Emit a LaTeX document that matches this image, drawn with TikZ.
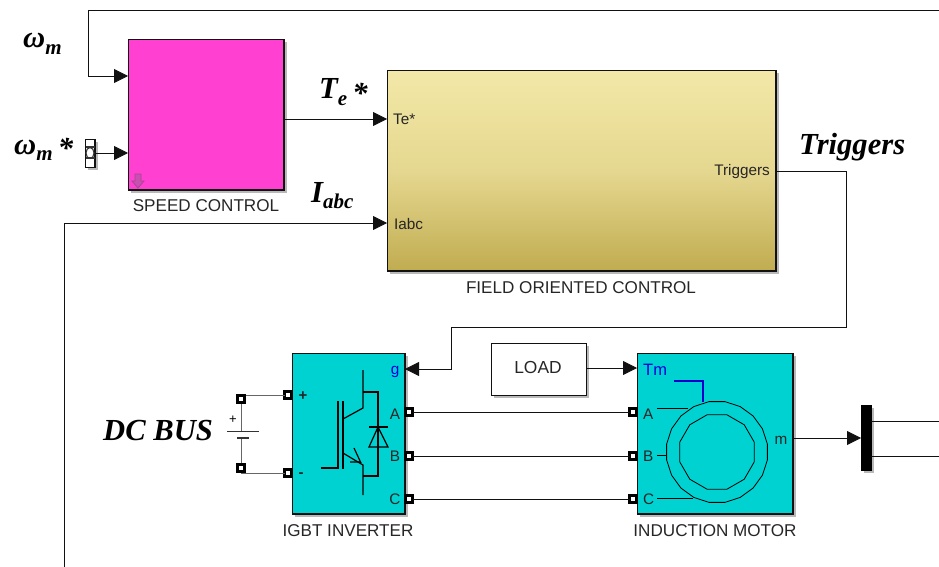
\documentclass[tikz,border=0pt]{standalone}
\usepackage{fontspec}
\setmainfont{Liberation Sans}
\newfontfamily\lbl{Liberation Serif}[BoldItalicFont={Liberation Serif Bold Italic}]
\usetikzlibrary{arrows.meta,shadows}
\definecolor{cyanblk}{HTML}{00D2D2}
\definecolor{pinkblk}{HTML}{FF40D0}
\definecolor{foctop}{HTML}{F3E8A8}
\definecolor{focbot}{HTML}{C0AC50}
\definecolor{lineg}{HTML}{111111}
\definecolor{maskpink}{HTML}{C850B0}
\newcommand{\subm}[1]{\raisebox{-0.22em}{\fontsize{21}{21}\selectfont #1}}
\newcommand{\lowstar}{\hspace{-0.08em}\raisebox{-0.14em}{*}}
\tikzset{
  blk/.style={draw=lineg,line width=1.2pt,inner sep=0pt,outer sep=0pt,anchor=north west,
    drop shadow={shadow xshift=2.5pt,shadow yshift=-2.5pt,fill=black!50,opacity=.55}},
  wire/.style={draw=lineg,line width=.8pt},
  arr/.style={wire,-{Triangle[length=14pt,width=14pt]}},
  sym/.style={draw=black,line width=1.2pt},
  captext/.style={font=\fontsize{17.1}{18}\selectfont,text=black!85,inner sep=0pt},
  plab/.style={font=\fontsize{15.3}{16}\selectfont,text=black!85,inner sep=0pt},
  biglab/.style={font=\lbl\bfseries\itshape\fontsize{30.6}{32}\selectfont,inner sep=0pt,text=black},
  port/.style={draw=black,line width=2.4pt,fill=white,minimum size=7pt,inner sep=0pt,outer sep=0pt,shape=rectangle}
}
\begin{document}
\begin{tikzpicture}[x=1pt,y=-1pt]
\useasboundingbox (0,0) rectangle (939,567);
% blocks
\node[blk,fill=pinkblk,minimum width=155.5pt,minimum height=150.5pt] (speed) at (128.5,39.5) {};
\node[blk,top color=foctop,bottom color=focbot,middle color=foctop!72!focbot,minimum width=388.5pt,minimum height=200.5pt] (foc) at (387.5,70.5) {};
\node[blk,fill=cyanblk,minimum width=112.5pt,minimum height=160.5pt] (igbt) at (292.5,353.5) {};
\node[blk,fill=cyanblk,minimum width=155.5pt,minimum height=160.5pt] (motor) at (637.5,353.5) {};
\node[blk,fill=white,line width=1pt,minimum width=95pt,minimum height=52pt] (load) at (491,343) {};
\node[blk,fill=black,draw=black,minimum width=9.5pt,minimum height=65pt] (mux) at (861.5,405.5) {};
\node[blk,fill=white,line width=1.1pt,minimum width=9.5pt,minimum height=28pt] (const) at (85.5,139.5) {};
% coordinates
\coordinate (wmE) at (939,10);
\coordinate (wmA) at (88,10);
\coordinate (wmB) at (88,76);
\coordinate (speedIn1) at (128,76);
\coordinate (speedIn2) at (128,153);
\coordinate (constOut) at (95,153);
\coordinate (speedOut) at (284,119);
\coordinate (focTe) at (387,119);
\coordinate (focI) at (387,223);
\coordinate (iB) at (64,223);
\coordinate (iE) at (64,567);
\coordinate (focTr) at (776,171);
\coordinate (t1) at (846,171);
\coordinate (t2) at (846,327);
\coordinate (t3) at (451,327);
\coordinate (t4) at (451,369);
\coordinate (igbtG) at (405,369);
\coordinate (loadOut) at (586,368);
\coordinate (motTm) at (637,368);
\coordinate (motM) at (793,438);
\coordinate (muxIn) at (861,438);
\coordinate (m1) at (871,421);
\coordinate (m2) at (871,456);
\coordinate (m1E) at (939,421);
\coordinate (m2E) at (939,456);
% wires
\draw[arr] (wmE) -- (wmA) -- (wmB) -- (speedIn1);
\draw[arr] (constOut) -- (speedIn2);
\draw[arr] (speedOut) -- (focTe);
\draw[arr] (iE) -- (iB) -- (focI);
\draw[arr] (focTr) -- (t1) -- (t2) -- (t3) -- (t4) -- (igbtG);
\draw[arr] (loadOut) -- (motTm);
\draw[arr] (motM) -- (muxIn);
\draw[wire] (m1) -- (m1E);
\draw[wire] (m2) -- (m2E);
% ports
\node[port] (pA) at (409,412) {};
\node[port] (pB) at (409,456) {};
\node[port] (pC) at (409,499) {};
\node[port] (qA) at (633,412) {};
\node[port] (qB) at (633,456) {};
\node[port] (qC) at (633,499) {};
\node[port] (pP) at (288,395) {};
\node[port] (pN) at (288,473) {};
\draw[wire] (pA) -- (qA);
\draw[wire] (pB) -- (qB);
\draw[wire] (pC) -- (qC);
\coordinate (bT) at (241,431);
\coordinate (bS) at (241,438);
\coordinate (bPc) at (241,395);
\coordinate (bNc) at (241,473);
\draw[wire,draw=black!60,line width=1pt] (pP) -- (bPc) -- (bT);
\draw[wire,draw=black!60,line width=1pt] (pN) -- (bNc) -- (bS);
\node[port] (bP) at (241,399) {};
\node[port] (bN) at (241,468) {};
\draw[black!80,line width=1pt] (227,431) -- (259,431);
\draw[black!80,line width=1.2pt] (237,438) -- (249,438);
\node[font=\fontsize{13}{13}\selectfont,inner sep=0pt] (bplus) at (233,420) {+};
% constant glyph
\draw[line width=1.1pt,draw=black!80] (86,147) -- (95,147) (86,158) -- (95,158);
\draw[line width=1.1pt,draw=black!80] (90,153) ellipse (4 and 5.5);
% speed mask arrow
\draw[draw=maskpink!85!black,fill=maskpink,line width=.8pt]
  (135,174) -- (141,174) -- (141,181) -- (144,181) -- (138,188) -- (132,181) -- (135,181) -- cycle;
% IGBT symbol
\draw[sym] (321,468) -- (338,468) -- (338,401);
\draw[sym] (343,401) -- (343,469);
\draw[sym] (363,370) -- (363,408) -- (343,419);
\draw[sym] (343,453) -- (363,465) -- (363,495);
\draw[sym] (350,462) -- (361,462) (354,448) -- (361,463);
\draw[sym] (363,392) -- (378,392) -- (378,476) -- (363,476);
\draw[sym] (369,427) -- (388,427);
\draw[sym] (378,427) -- (369,447) -- (388,447) -- cycle;
% motor symbol
\draw[black,line width=.8pt] plot[samples=21,domain=9:369] ({717+51*cos(\x)},{452+51*sin(\x)}) -- cycle;
\draw[black,line width=.8pt] plot[samples=13,domain=15:375] ({717+38.5*cos(\x)},{452+38.5*sin(\x)}) -- cycle;
\draw[black,line width=.8pt] (657,408) -- (688,408);
\draw[black,line width=.8pt] (657,455) -- (667,455);
\draw[black,line width=.8pt] (657,498) -- (693,498);
\draw[blue!80!black,line width=1.4pt] (674,381) -- (703,381) -- (703,402);
% port labels
\node[plab,anchor=west] (lTe) at (393,119) {Te*};
\node[plab,anchor=west] (lI) at (394,224) {Iabc};
\node[plab,anchor=east] (lTr) at (770,172) {Triggers};
\node[plab,anchor=center,text=blue!85!black] (lg) at (395,372) {g};
\node[plab,anchor=center] (lA) at (395,414) {A};
\node[plab,anchor=center] (lB) at (395,456) {B};
\node[plab,anchor=center] (lC) at (395,499) {C};
\node[plab,anchor=center,font=\bfseries\fontsize{15}{15}\selectfont] (lp) at (303,396) {+};
\node[plab,anchor=center,font=\bfseries\fontsize{15}{15}\selectfont] (lm) at (301,475) {-};
\node[plab,anchor=west,text=blue!85!black,font=\fontsize{16.5}{17}\selectfont] (lTm) at (643,370) {Tm};
\node[plab,anchor=west] (lmA) at (643,414) {A};
\node[plab,anchor=west] (lmB) at (643,456) {B};
\node[plab,anchor=west] (lmC) at (643,499) {C};
\node[plab,anchor=center] (lmm) at (781,440) {m};
\node[plab,font=\fontsize{17.4}{18}\selectfont] (lload) at (538,368) {LOAD};
% captions
\node[captext] (c1) at (206,206) {SPEED CONTROL};
\node[captext] (c2) at (581,288) {FIELD ORIENTED CONTROL};
\node[captext] (c3) at (348,531) {IGBT INVERTER};
\node[captext] (c4) at (715,531) {INDUCTION MOTOR};
% big labels
\node[biglab,anchor=base west] (b1) at (23,48) {ω\subm{m}};
\node[biglab,anchor=base west] (b2) at (14,154) {ω\subm{m} \lowstar};
\node[biglab,anchor=base west] (b3) at (319,99) {T\subm{e} \lowstar};
\node[biglab,anchor=base west] (b4) at (311,202) {I\subm{abc}};
\node[biglab,anchor=base west] (b5) at (799,154) {Triggers};
\node[biglab,anchor=base west] (b6) at (103,440) {DC BUS};
\end{tikzpicture}
\end{document}
